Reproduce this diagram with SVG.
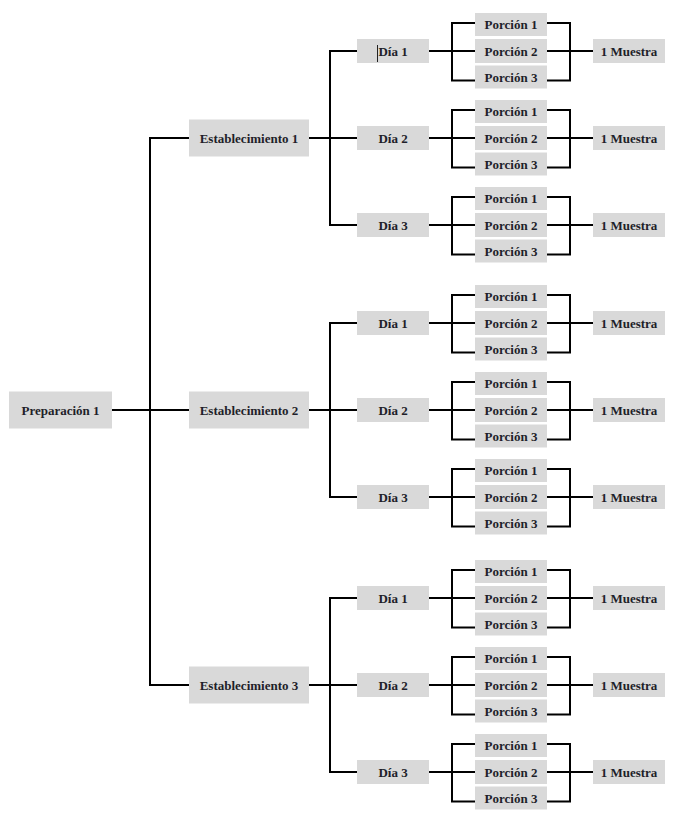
<svg xmlns="http://www.w3.org/2000/svg" width="678" height="823" viewBox="0 0 678 823">
<style>
.b{fill:#d9d9d9}
.t{font-family:"Liberation Serif","Times New Roman",serif;font-weight:bold;font-size:13px;fill:#1f1f2a;text-anchor:middle}
.c{fill:none;stroke:#000;stroke-width:2}
</style>
<rect width="678" height="823" fill="#fff"/>
<g id="connectors" class="c">
<path d="M112 410H189M189 138H150V685H189"/>
<path d="M309 138H357M357 51H330V225H357"/>
<path d="M309 410H357M357 323H330V497H357"/>
<path d="M309 685H357M357 598H330V772H357"/>
<path d="M429 51H593M475 23H452V80.5H475M547 23H570V80.5H547"/>
<path d="M429 138H593M475 110H452V167.5H475M547 110H570V167.5H547"/>
<path d="M429 225H593M475 197H452V254.5H475M547 197H570V254.5H547"/>
<path d="M429 323H593M475 295H452V352.5H475M547 295H570V352.5H547"/>
<path d="M429 410H593M475 382H452V439.5H475M547 382H570V439.5H547"/>
<path d="M429 497H593M475 469H452V526.5H475M547 469H570V526.5H547"/>
<path d="M429 598H593M475 570H452V627.5H475M547 570H570V627.5H547"/>
<path d="M429 685H593M475 657H452V714.5H475M547 657H570V714.5H547"/>
<path d="M429 772H593M475 744H452V801.5H475M547 744H570V801.5H547"/>
</g>
<g id="prep1"><rect class="b" x="9" y="391.5" width="103" height="37"/><text class="t" x="60.5" y="414.5">Preparación 1</text></g>
<g id="est1"><rect class="b" x="189" y="119.5" width="120" height="37"/><text class="t" x="249" y="142.5">Establecimiento 1</text></g>
<g id="est2"><rect class="b" x="189" y="391.5" width="120" height="37"/><text class="t" x="249" y="414.5">Establecimiento 2</text></g>
<g id="est3"><rect class="b" x="189" y="666.5" width="120" height="37"/><text class="t" x="249" y="689.5">Establecimiento 3</text></g>

<g id="e1d1"><rect class="b" x="357" y="39" width="72" height="24"/><text class="t" x="393" y="55.5">Día 1</text><line x1="377.5" y1="45" x2="377.5" y2="62" stroke="#222" stroke-width="1"/></g>
<g id="e1d1p1"><rect class="b" x="475" y="13" width="72" height="23"/><text class="t" x="511" y="29">Porción 1</text></g>
<g id="e1d1p2"><rect class="b" x="475" y="39" width="72" height="24"/><text class="t" x="511" y="55.5">Porción 2</text></g>
<g id="e1d1p3"><rect class="b" x="475" y="65.5" width="72" height="23"/><text class="t" x="511" y="81.5">Porción 3</text></g>
<g id="e1d1m"><rect class="b" x="593" y="39" width="72" height="24"/><text class="t" x="629" y="55.5">1 Muestra</text></g>

<g id="e1d2"><rect class="b" x="357" y="126" width="72" height="24"/><text class="t" x="393" y="142.5">Día 2</text></g>
<g id="e1d2p1"><rect class="b" x="475" y="100" width="72" height="23"/><text class="t" x="511" y="116">Porción 1</text></g>
<g id="e1d2p2"><rect class="b" x="475" y="126" width="72" height="24"/><text class="t" x="511" y="142.5">Porción 2</text></g>
<g id="e1d2p3"><rect class="b" x="475" y="152.5" width="72" height="23"/><text class="t" x="511" y="168.5">Porción 3</text></g>
<g id="e1d2m"><rect class="b" x="593" y="126" width="72" height="24"/><text class="t" x="629" y="142.5">1 Muestra</text></g>

<g id="e1d3"><rect class="b" x="357" y="213" width="72" height="24"/><text class="t" x="393" y="229.5">Día 3</text></g>
<g id="e1d3p1"><rect class="b" x="475" y="187" width="72" height="23"/><text class="t" x="511" y="203">Porción 1</text></g>
<g id="e1d3p2"><rect class="b" x="475" y="213" width="72" height="24"/><text class="t" x="511" y="229.5">Porción 2</text></g>
<g id="e1d3p3"><rect class="b" x="475" y="239.5" width="72" height="23"/><text class="t" x="511" y="255.5">Porción 3</text></g>
<g id="e1d3m"><rect class="b" x="593" y="213" width="72" height="24"/><text class="t" x="629" y="229.5">1 Muestra</text></g>

<g id="e2d1"><rect class="b" x="357" y="311" width="72" height="24"/><text class="t" x="393" y="327.5">Día 1</text></g>
<g id="e2d1p1"><rect class="b" x="475" y="285" width="72" height="23"/><text class="t" x="511" y="301">Porción 1</text></g>
<g id="e2d1p2"><rect class="b" x="475" y="311" width="72" height="24"/><text class="t" x="511" y="327.5">Porción 2</text></g>
<g id="e2d1p3"><rect class="b" x="475" y="337.5" width="72" height="23"/><text class="t" x="511" y="353.5">Porción 3</text></g>
<g id="e2d1m"><rect class="b" x="593" y="311" width="72" height="24"/><text class="t" x="629" y="327.5">1 Muestra</text></g>

<g id="e2d2"><rect class="b" x="357" y="398" width="72" height="24"/><text class="t" x="393" y="414.5">Día 2</text></g>
<g id="e2d2p1"><rect class="b" x="475" y="372" width="72" height="23"/><text class="t" x="511" y="388">Porción 1</text></g>
<g id="e2d2p2"><rect class="b" x="475" y="398" width="72" height="24"/><text class="t" x="511" y="414.5">Porción 2</text></g>
<g id="e2d2p3"><rect class="b" x="475" y="424.5" width="72" height="23"/><text class="t" x="511" y="440.5">Porción 3</text></g>
<g id="e2d2m"><rect class="b" x="593" y="398" width="72" height="24"/><text class="t" x="629" y="414.5">1 Muestra</text></g>

<g id="e2d3"><rect class="b" x="357" y="485" width="72" height="24"/><text class="t" x="393" y="501.5">Día 3</text></g>
<g id="e2d3p1"><rect class="b" x="475" y="459" width="72" height="23"/><text class="t" x="511" y="475">Porción 1</text></g>
<g id="e2d3p2"><rect class="b" x="475" y="485" width="72" height="24"/><text class="t" x="511" y="501.5">Porción 2</text></g>
<g id="e2d3p3"><rect class="b" x="475" y="511.5" width="72" height="23"/><text class="t" x="511" y="527.5">Porción 3</text></g>
<g id="e2d3m"><rect class="b" x="593" y="485" width="72" height="24"/><text class="t" x="629" y="501.5">1 Muestra</text></g>

<g id="e3d1"><rect class="b" x="357" y="586" width="72" height="24"/><text class="t" x="393" y="602.5">Día 1</text></g>
<g id="e3d1p1"><rect class="b" x="475" y="560" width="72" height="23"/><text class="t" x="511" y="576">Porción 1</text></g>
<g id="e3d1p2"><rect class="b" x="475" y="586" width="72" height="24"/><text class="t" x="511" y="602.5">Porción 2</text></g>
<g id="e3d1p3"><rect class="b" x="475" y="612.5" width="72" height="23"/><text class="t" x="511" y="628.5">Porción 3</text></g>
<g id="e3d1m"><rect class="b" x="593" y="586" width="72" height="24"/><text class="t" x="629" y="602.5">1 Muestra</text></g>

<g id="e3d2"><rect class="b" x="357" y="673" width="72" height="24"/><text class="t" x="393" y="689.5">Día 2</text></g>
<g id="e3d2p1"><rect class="b" x="475" y="647" width="72" height="23"/><text class="t" x="511" y="663">Porción 1</text></g>
<g id="e3d2p2"><rect class="b" x="475" y="673" width="72" height="24"/><text class="t" x="511" y="689.5">Porción 2</text></g>
<g id="e3d2p3"><rect class="b" x="475" y="699.5" width="72" height="23"/><text class="t" x="511" y="715.5">Porción 3</text></g>
<g id="e3d2m"><rect class="b" x="593" y="673" width="72" height="24"/><text class="t" x="629" y="689.5">1 Muestra</text></g>

<g id="e3d3"><rect class="b" x="357" y="760" width="72" height="24"/><text class="t" x="393" y="776.5">Día 3</text></g>
<g id="e3d3p1"><rect class="b" x="475" y="734" width="72" height="23"/><text class="t" x="511" y="750">Porción 1</text></g>
<g id="e3d3p2"><rect class="b" x="475" y="760" width="72" height="24"/><text class="t" x="511" y="776.5">Porción 2</text></g>
<g id="e3d3p3"><rect class="b" x="475" y="786.5" width="72" height="23"/><text class="t" x="511" y="802.5">Porción 3</text></g>
<g id="e3d3m"><rect class="b" x="593" y="760" width="72" height="24"/><text class="t" x="629" y="776.5">1 Muestra</text></g>
</svg>
